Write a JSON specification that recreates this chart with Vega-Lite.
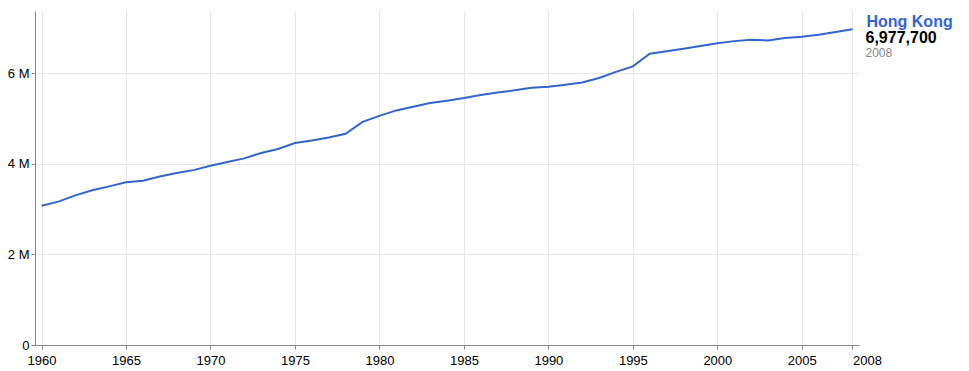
{
  "$schema": "https://vega.github.io/schema/vega-lite/v6.json",
  "autosize": {"type": "none"},
  "padding": {"left": 35, "top": 11, "right": 110, "bottom": 26},
  "width": 824,
  "height": 334,
  "config": {
    "font": "Liberation Sans",
    "view": {"stroke": null},
    "axis": {
      "labelFont": "Liberation Sans",
      "labelFontSize": 13,
      "labelColor": "#000000",
      "domainColor": "#888888",
      "tickColor": "#888888",
      "gridColor": "#e6e6e6",
      "tickSize": 4,
      "title": null
    }
  },
  "data": {
    "values": [
      {"year": 1960, "pop": 3075605, "country": "Hong Kong"},
      {"year": 1961, "pop": 3168100, "country": "Hong Kong"},
      {"year": 1962, "pop": 3305200, "country": "Hong Kong"},
      {"year": 1963, "pop": 3420900, "country": "Hong Kong"},
      {"year": 1964, "pop": 3504600, "country": "Hong Kong"},
      {"year": 1965, "pop": 3597900, "country": "Hong Kong"},
      {"year": 1966, "pop": 3629900, "country": "Hong Kong"},
      {"year": 1967, "pop": 3722800, "country": "Hong Kong"},
      {"year": 1968, "pop": 3802700, "country": "Hong Kong"},
      {"year": 1969, "pop": 3863900, "country": "Hong Kong"},
      {"year": 1970, "pop": 3959000, "country": "Hong Kong"},
      {"year": 1971, "pop": 4045300, "country": "Hong Kong"},
      {"year": 1972, "pop": 4123600, "country": "Hong Kong"},
      {"year": 1973, "pop": 4241600, "country": "Hong Kong"},
      {"year": 1974, "pop": 4330000, "country": "Hong Kong"},
      {"year": 1975, "pop": 4461600, "country": "Hong Kong"},
      {"year": 1976, "pop": 4518000, "country": "Hong Kong"},
      {"year": 1977, "pop": 4583700, "country": "Hong Kong"},
      {"year": 1978, "pop": 4667500, "country": "Hong Kong"},
      {"year": 1979, "pop": 4929700, "country": "Hong Kong"},
      {"year": 1980, "pop": 5063100, "country": "Hong Kong"},
      {"year": 1981, "pop": 5183400, "country": "Hong Kong"},
      {"year": 1982, "pop": 5264500, "country": "Hong Kong"},
      {"year": 1983, "pop": 5345100, "country": "Hong Kong"},
      {"year": 1984, "pop": 5397900, "country": "Hong Kong"},
      {"year": 1985, "pop": 5456200, "country": "Hong Kong"},
      {"year": 1986, "pop": 5524600, "country": "Hong Kong"},
      {"year": 1987, "pop": 5580500, "country": "Hong Kong"},
      {"year": 1988, "pop": 5627600, "country": "Hong Kong"},
      {"year": 1989, "pop": 5686200, "country": "Hong Kong"},
      {"year": 1990, "pop": 5704500, "country": "Hong Kong"},
      {"year": 1991, "pop": 5752000, "country": "Hong Kong"},
      {"year": 1992, "pop": 5800500, "country": "Hong Kong"},
      {"year": 1993, "pop": 5901000, "country": "Hong Kong"},
      {"year": 1994, "pop": 6035400, "country": "Hong Kong"},
      {"year": 1995, "pop": 6156100, "country": "Hong Kong"},
      {"year": 1996, "pop": 6435500, "country": "Hong Kong"},
      {"year": 1997, "pop": 6489300, "country": "Hong Kong"},
      {"year": 1998, "pop": 6543700, "country": "Hong Kong"},
      {"year": 1999, "pop": 6606500, "country": "Hong Kong"},
      {"year": 2000, "pop": 6665000, "country": "Hong Kong"},
      {"year": 2001, "pop": 6714300, "country": "Hong Kong"},
      {"year": 2002, "pop": 6744100, "country": "Hong Kong"},
      {"year": 2003, "pop": 6730800, "country": "Hong Kong"},
      {"year": 2004, "pop": 6783500, "country": "Hong Kong"},
      {"year": 2005, "pop": 6813200, "country": "Hong Kong"},
      {"year": 2006, "pop": 6857100, "country": "Hong Kong"},
      {"year": 2007, "pop": 6916300, "country": "Hong Kong"},
      {"year": 2008, "pop": 6977700, "country": "Hong Kong"}
    ]
  },
  "encoding": {
    "x": {
      "field": "year",
      "type": "quantitative",
      "scale": {"domain": [1959.615, 2008.385], "nice": false, "zero": false},
      "axis": {
        "values": [1960, 1965, 1970, 1975, 1980, 1985, 1990, 1995, 2000, 2005, 2008],
        "format": "d",
        "labelPadding": 5,
        "labelFlush": false,
        "labelOverlap": false,
        "labelAlign": {"condition": {"test": "datum.value == 2008", "value": "left"}, "value": "center"},
        "grid": true
      }
    },
    "y": {
      "field": "pop",
      "type": "quantitative",
      "scale": {"domain": [0, 7380000], "nice": false},
      "axis": {
        "values": [0, 2000000, 4000000, 6000000],
        "labelExpr": "datum.value == 0 ? '0' : (datum.value / 1000000) + ' M'",
        "labelPadding": 2,
        "grid": true
      }
    }
  },
  "layer": [
    {
      "mark": {"type": "line", "color": "#3366cc", "strokeWidth": 2}
    },
    {
      "transform": [{"filter": "datum.year == 2008"}],
      "mark": {"type": "text", "align": "left", "baseline": "alphabetic", "dx": 14, "dy": -2, "fontSize": 16, "fontWeight": "bold", "color": "#3366cc"},
      "encoding": {"text": {"field": "country"}}
    },
    {
      "transform": [{"filter": "datum.year == 2008"}],
      "mark": {"type": "text", "align": "left", "baseline": "alphabetic", "dx": 13, "dy": 14, "fontSize": 16, "fontWeight": "bold", "color": "#000000"},
      "encoding": {"text": {"field": "pop", "type": "quantitative", "format": ","}}
    },
    {
      "transform": [{"filter": "datum.year == 2008"}],
      "mark": {"type": "text", "align": "left", "baseline": "alphabetic", "dx": 13, "dy": 28, "fontSize": 12, "color": "#888888"},
      "encoding": {"text": {"field": "year", "type": "quantitative", "format": "d"}}
    }
  ]
}
